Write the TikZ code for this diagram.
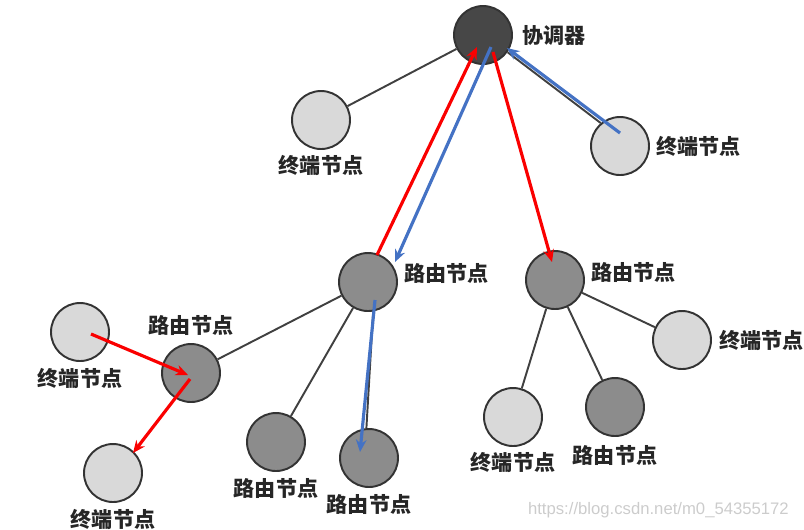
\documentclass[tikz,border=0pt]{standalone}
\usepackage{fontspec}
\setsansfont{Liberation Sans}
\newfontfamily\cjk{Noto Sans CJK SC}
\usepackage{tikz}
\usetikzlibrary{arrows.meta, positioning}
\definecolor{arrblue}{RGB}{68,114,196}
\definecolor{arrred}{RGB}{250,0,0}

\begin{document}
\begin{tikzpicture}[>={Stealth[length=7pt,width=6pt]}, x=0.02cm, y=-0.02cm,
  every node/.style={font=\cjk\bfseries\fontsize{12}{14}\selectfont},
  coordnode/.style={circle, draw=black!80, line width=1.1pt, fill=black!72,
    minimum size=1.16cm, inner sep=0pt},
  router/.style={coordnode, fill=black!45},
  terminal/.style={coordnode, fill=black!15},
  lab/.style={inner sep=1pt, text=black!85},
  link/.style={draw=black!75, line width=1.1pt},
  redarr/.style={->, arrred, line width=1.8pt},
  bluearr/.style={->, arrblue, line width=1.8pt}]
  \useasboundingbox (0,0) rectangle (804,529);

  % Coordinator and its terminals
  \node[coordnode] (coord) at (483,35) {};
  \node[terminal] (tleft) at (321,120) {};
  \node[terminal] (tright) at (620,146) {};
  \node[lab, right=0.15cm of coord] (coord-l) {协调器};
  \node[lab, below=0.06cm of tleft] (tleft-l) {终端节点};
  \node[lab, right=0.08cm of tright] (tright-l) {终端节点};

  % Routers
  \node[router] (rmid) at (368,282) {};
  \node[router] (rright) at (555,280) {};
  \node[router] (rleft) at (191,373) {};
  \node[lab, right=0.08cm of rmid, yshift=5pt] (rmid-l) {路由节点};
  \node[lab, right=0.08cm of rright, yshift=4pt] (rright-l) {路由节点};
  \node[lab, above=0.1cm of rleft] (rleft-l) {路由节点};

  % Leaves
  \node[terminal] (tfar) at (80,332) {};
  \node[terminal] (tlow) at (113,473) {};
  \node[router] (rmid1) at (276,442) {};
  \node[router] (rmid2) at (369,458) {};
  \node[terminal] (rr1) at (513,417) {};
  \node[router] (rr2) at (615,407) {};
  \node[terminal] (rr3) at (682,340) {};
  \node[lab, below=0.08cm of tfar] (tfar-l) {终端节点};
  \node[lab, below=0.08cm of tlow] (tlow-l) {终端节点};
  \node[lab, below=0.08cm of rmid1] (rmid1-l) {路由节点};
  \node[lab, below=0.08cm of rmid2] (rmid2-l) {路由节点};
  \node[lab, below=0.06cm of rr1] (rr1-l) {终端节点};
  \node[lab, below=0.12cm of rr2] (rr2-l) {路由节点};
  \node[lab, right=0.1cm of rr3] (rr3-l) {终端节点};

  % Links
  \draw[link] (coord) -- (tleft);
  \draw[link] (coord.-35) -- (tright.130);
  \draw[link] (rmid) -- (rleft);
  \draw[link] (rmid) -- (rmid1);
  \draw[link] (rmid.-80) -- (rmid2.95);
  \draw[link] (rright) -- (rr1);
  \draw[link] (rright) -- (rr2);
  \draw[link] (rright) -- (rr3);

  % Message paths
  \draw[redarr] ([shift={(9,-27)}]rmid.center) -- ([shift={(-6,12)}]coord.center);
  \draw[bluearr] ([shift={(8,12)}]coord.center) -- ([shift={(27,-20)}]rmid.center);
  \draw[redarr] ([shift={(10,17)}]coord.center) -- ([shift={(-3,-18)}]rright.center);
  \draw[bluearr] ([shift={(0,-13)}]tright.center) -- ([shift={(24,13)}]coord.center);
  \draw[bluearr] ([shift={(7,18)}]rmid.center) -- ([shift={(-9,-6)}]rmid2.center);
  \draw[redarr] ([shift={(11,2)}]tfar.center) -- ([shift={(-3,2)}]rleft.center);
  \draw[redarr] ([shift={(-1,6)}]rleft.center) -- ([shift={(20,-20)}]tlow.center);

  % Watermark
  \node[font=\sffamily\fontsize{9.5}{11}\selectfont, text=black!20, anchor=east]
    (mark) at (795,510) {https://blog.csdn.net/m0\_54355172};
\end{tikzpicture}
\end{document}
